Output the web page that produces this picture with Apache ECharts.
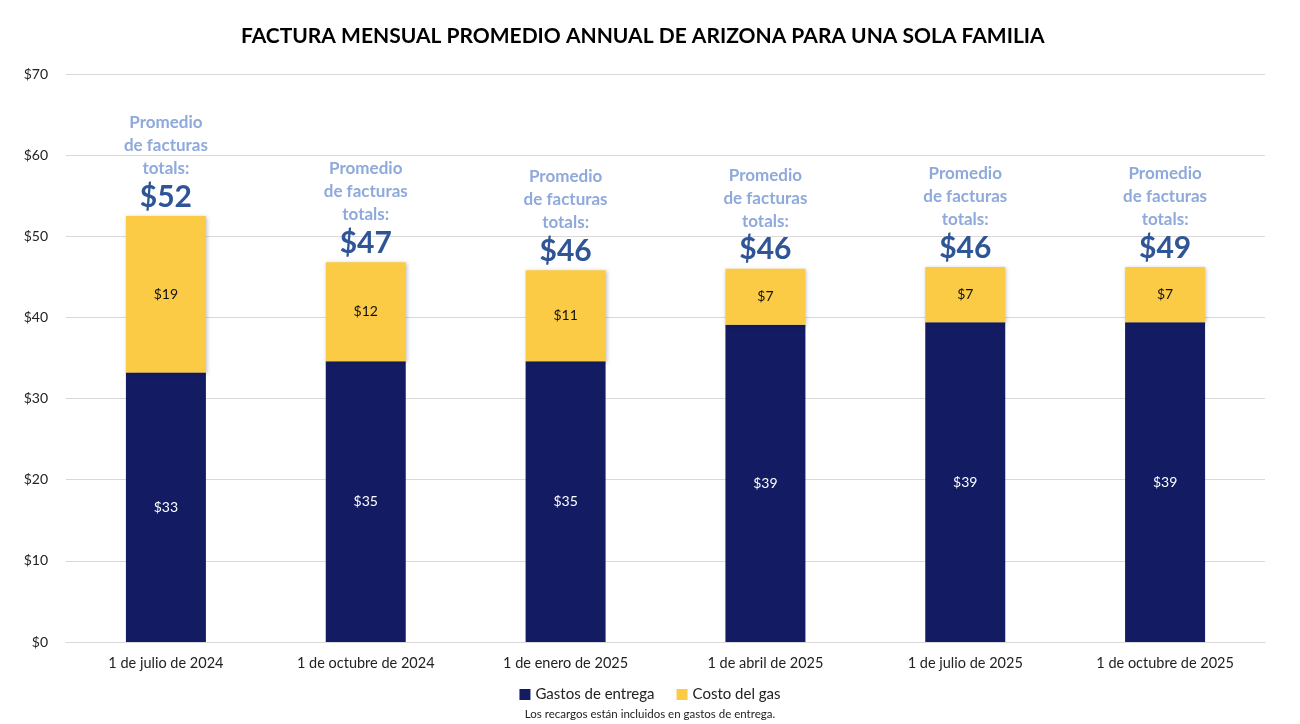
<!DOCTYPE html>
<html>
<head>
<meta charset="utf-8">
<script src="https://cdn.jsdelivr.net/npm/echarts@6/dist/echarts.min.js"></script>
<style>
    html, body { margin: 0; padding: 0; background: #fff; }
    #chart { width: 1300px; height: 724px; }
</style>
</head>
<body>
<div id="chart"></div>
<script>
// datos
var fechas = ['1 de julio de 2024', '1 de octubre de 2024', '1 de enero de 2025',
    '1 de abril de 2025', '1 de julio de 2025', '1 de octubre de 2025'];
var gastosEntrega = [33.2, 34.6, 34.6, 39.1, 39.4, 39.4];
var costoGas = [19.3, 12.2, 11.2, 6.9, 6.8, 6.8];
var etiquetasEntrega = ['$33', '$35', '$35', '$39', '$39', '$39'];
var etiquetasGas = ['$19', '$12', '$11', '$7', '$7', '$7'];
var etiquetasTotal = ['$52', '$47', '$46', '$46', '$46', '$49'];

var fuente = 'Lato, "Open Sans", sans-serif';
var chart = echarts.init(document.getElementById('chart'));

var option = {
    animation: false,
    textStyle: { fontFamily: fuente },
    title: {
        text: 'FACTURA MENSUAL PROMEDIO ANNUAL DE ARIZONA PARA UNA SOLA FAMILIA',
        left: 236,
        top: 21,
        textStyle: { fontSize: 21, fontWeight: 'bold', color: '#000', fontFamily: fuente }
    },
    legend: {
        bottom: 17,
        left: 'center',
        itemWidth: 11,
        itemHeight: 11,
        itemGap: 22,
        icon: 'rect',
        textStyle: { fontSize: 15, color: '#222', fontFamily: fuente },
        data: ['Gastos de entrega', 'Costo del gas']
    },
    graphic: [{
        type: 'text',
        left: 'center',
        top: 708,
        style: { text: 'Los recargos están incluidos en gastos de entrega.', fontSize: 11.5, fill: '#222', fontFamily: fuente }
    }],
    grid: { left: 66, right: 35, top: 74, bottom: 82 },
    xAxis: {
        type: 'category',
        data: fechas,
        axisLine: { lineStyle: { color: '#d9d9d9' } },
        axisTick: { show: false },
        axisLabel: { fontSize: 14.5, color: '#222', margin: 14, fontFamily: fuente }
    },
    yAxis: {
        type: 'value',
        min: 0,
        max: 70,
        interval: 10,
        axisLine: { show: false },
        axisTick: { show: false },
        splitLine: { lineStyle: { color: '#d9d9d9' } },
        axisLabel: {
            fontSize: 14, color: '#222', margin: 18, fontFamily: fuente,
            formatter: function (v) { return '$' + v; }
        }
    },
    series: [{
        name: 'Gastos de entrega',
        type: 'bar',
        stack: 'total',
        barWidth: 80,
        data: gastosEntrega,
        itemStyle: { color: '#131C63' },
        label: {
            show: true,
            position: 'inside',
            color: '#fff',
            fontSize: 14,
            fontFamily: fuente,
            formatter: function (p) { return etiquetasEntrega[p.dataIndex]; }
        }
    }, {
        name: 'Costo del gas',
        type: 'bar',
        stack: 'total',
        barWidth: 80,
        data: costoGas,
        itemStyle: { color: '#FBCB45', shadowColor: 'rgba(0,0,0,0.25)', shadowBlur: 4, shadowOffsetX: 1, shadowOffsetY: 1 },
        label: {
            show: true,
            position: 'inside',
            color: '#111',
            fontSize: 14,
            fontFamily: fuente,
            formatter: function (p) { return etiquetasGas[p.dataIndex]; }
        }
    }, {
        // serie invisible para la etiqueta del total
        name: 'total',
        type: 'bar',
        stack: 'total',
        barWidth: 80,
        data: gastosEntrega.map(function () { return 0; }),
        itemStyle: { color: 'transparent' },
        label: {
            show: true,
            position: 'top',
            distance: 2,
            formatter: function (p) {
                return '{a|Promedio}\n{a|de facturas}\n{a|totals:}\n{b|' + etiquetasTotal[p.dataIndex] + '}';
            },
            rich: {
                a: { fontSize: 17, fontWeight: 'bold', color: '#8EA9DB', lineHeight: 23, align: 'center', fontFamily: fuente },
                b: { fontSize: 30, fontWeight: 'bold', color: '#2F5597', lineHeight: 34, align: 'center', fontFamily: fuente }
            }
        }
    }]
};
chart.setOption(option);
</script>
</body>
</html>
